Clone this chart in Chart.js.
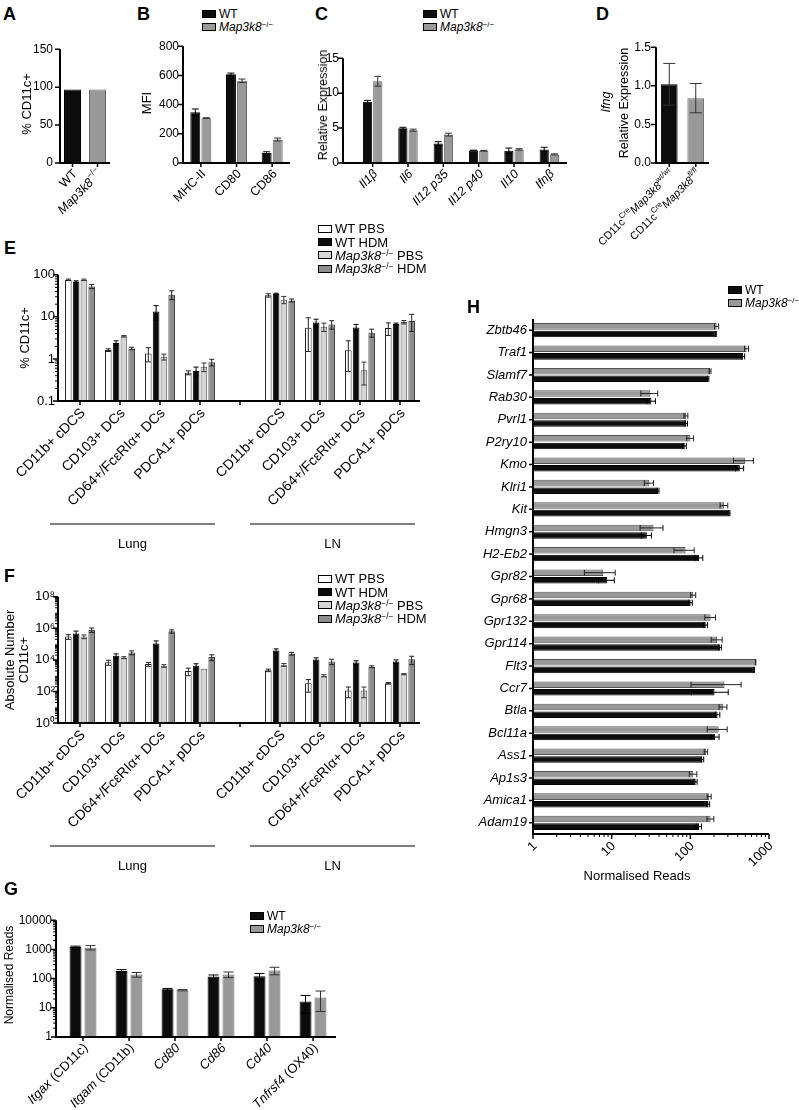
<!DOCTYPE html>
<html><head><meta charset="utf-8">
<script src="https://cdn.jsdelivr.net/npm/chart.js@4.4.0/dist/chart.umd.min.js"></script>
<style>
body{margin:0;background:#fff;}
#fig{position:relative;width:799px;height:1110px;overflow:hidden;font-family:"Liberation Sans",Arial,sans-serif;color:#000;}
#fig canvas{position:absolute;}
.lt{position:absolute;font-weight:bold;font-size:18px;line-height:18px;}
.yt{position:absolute;white-space:nowrap;transform:translate(-50%,-50%) rotate(-90deg);font-size:13px;line-height:14px;}
.xt{position:absolute;white-space:nowrap;transform:translate(-50%,-50%);font-size:13px;line-height:14px;}
.lg{position:absolute;font-size:12px;}
.lg div{height:13.4px;display:flex;align-items:center;white-space:nowrap;}
.lg span.sq{display:inline-block;width:12px;height:6px;border:1px solid #000;margin-right:3px;}
sup{font-size:0.65em;line-height:0;vertical-align:0.5em;}
</style></head><body><div id="fig"></div>
<script>
// ---- data ----
const aCats = ['WT', '<i>Map3k8</i><sup>−/−</sup>'];
const aVals = [97, 97];

const bCats = ['MHC-II', 'CD80', 'CD86'];
const bWT = [348, 608, 70], bWTerr = [22, 8, 7];
const bKO = [307, 563, 161], bKOerr = [3, 12, 10];

const cCats = ['<i>Il1β</i>', '<i>Il6</i>', '<i>Il12 p35</i>', '<i>Il12 p40</i>', '<i>Il10</i>', '<i>Ifnβ</i>'];
const cWT = [8.77, 4.96, 2.8, 1.78, 1.74, 1.95], cWTerr = [0.2, 0.15, 0.25, 0.05, 0.4, 0.3];
const cKO = [11.7, 4.7, 4.07, 1.75, 1.95, 1.23], cKOerr = [0.7, 0.15, 0.2, 0.05, 0.1, 0.08];

const dCats = ['CD11c<sup>Cre</sup><i>Map3k8<sup>wt/wt</sup></i>', 'CD11c<sup>Cre</sup><i>Map3k8<sup>fl/fl</sup></i>'];
const dVals = [1.02, 0.84], dErr = [0.27, 0.19];

const eCats = ['CD11b+ cDCS', 'CD103+ DCs', 'CD64+/FcεRIα+ DCs', 'PDCA1+ pDCs', '',
  'CD11b+ cDCS', 'CD103+ DCs', 'CD64+/FcεRIα+ DCs', 'PDCA1+ pDCs'];
const eWTPBS = [76, 1.62, 1.35, 0.47, null, 32.5, 5.5, 1.6, 5.4];
const eWTPBSerr = [3, 0.12, 0.5, 0.05, null, 3, 4, 1.1, 1.8];
const eWTHDM = [69, 2.4, 13.5, 0.52, null, 35.5, 7.3, 5.6, 6.8];
const eWTHDMerr = [3, 0.3, 5, 0.12, null, 1, 1.5, 1, 0.3];
const eKOPBS = [76, 3.46, 1.12, 0.65, null, 25.6, 5.8, 0.54, 7.5];
const eKOPBSerr = [3, 0.15, 0.18, 0.15, null, 5, 1.3, 0.3, 0.7];
const eKOHDM = [53, 1.78, 33.6, 0.83, null, 24.6, 6.6, 4.2, 8];
const eKOHDMerr = [6, 0.12, 8, 0.15, null, 2, 1.5, 0.9, 3.5];

const fWTPBS = [3e5, 7e3, 5.4e3, 2e3, null, 2.2e3, 330, 115, 330];
const fWTPBSerr = [1e5, 2.5e3, 1.5e3, 1e3, null, 400, 240, 75, 40];
const fWTHDM = [4.7e5, 1.8e4, 1.1e5, 4.2e3, null, 4e4, 1.05e4, 6.8e3, 8e3];
const fWTHDMerr = [2e5, 6e3, 5e4, 1.5e3, null, 1e4, 3e3, 2e3, 2e3];
const fKOPBS = [3e5, 1.4e4, 4.2e3, 2.7e3, null, 4.9e3, 1e3, 115, 1.25e3];
const fKOPBSerr = [8e4, 2e3, 800, 0, null, 1e3, 150, 75, 100];
const fKOHDM = [8e5, 2.9e4, 6.5e5, 1.5e4, null, 2.5e4, 8e3, 3.7e3, 1.1e4];
const fKOHDMerr = [2.5e5, 8e3, 1.5e5, 6e3, null, 5e3, 3e3, 500, 6e3];

const gCats = ['<i>Itgax</i> (CD11c)', '<i>Itgam</i> (CD11b)', '<i>Cd80</i>', '<i>Cd86</i>', '<i>Cd40</i>', '<i>Tnfrsf4</i> (OX40)'];
const gWT = [1230, 183, 43, 118, 120, 16.5], gWTerr = [60, 20, 3, 15, 30, 10];
const gKO = [1150, 137, 40, 138, 190, 22.5], gKOerr = [200, 25, 2, 30, 55, 15];

const hGenes = ['Zbtb46', 'Traf1', 'Slamf7', 'Rab30', 'Pvrl1', 'P2ry10', 'Kmo', 'Klri1', 'Kit', 'Hmgn3', 'H2-Eb2', 'Gpr82',
  'Gpr68', 'Gpr132', 'Gpr114', 'Flt3', 'Ccr7', 'Btla', 'Bcl11a', 'Ass1', 'Ap1s3', 'Amica1', 'Adam19'];
const hKO = [216, 519, 178, 31, 88, 100, 494, 30, 269, 34, 87, 7.8, 109, 181, 219, 675, 272, 262, 229, 158, 109, 174, 181];
const hKOerr = [13, 30, 5, 7.5, 5, 10, 140, 4, 30, 11, 25, 3.3, 8, 28, 35, 5, 170, 30, 65, 8, 12, 10, 18];
const hWT = [211, 470, 169, 32, 89, 85, 426, 39, 314, 28, 129, 8.8, 101, 157, 238, 650, 203, 222, 207, 143, 117, 170, 129];
const hWTerr = [3, 20, 3, 4, 3, 4, 50, 1, 5, 4, 15, 2, 5, 8, 10, 3, 100, 15, 25, 5, 5, 6, 10];

const tA = [0, 50, 100, 150], tB = [0, 200, 400, 600, 800], tC = [0, 5, 10, 15], tD = [0, 0.5, 1, 1.5];
const tE = [0.1, 1, 10, 100], tF = [1, 1e2, 1e4, 1e6, 1e8], tG = [1, 10, 100, 1000, 10000], tH = [1, 10, 100, 1000];

// ---- helpers ----
const FONT = '"Liberation Sans", Arial, sans-serif';
const fig = document.getElementById('fig');
const cfgs = {};
const BLK = '#0d0d0d', GRY = '#999';

function txt(html, cls, x, y, extra) {
  const d = document.createElement('div');
  d.className = cls; d.innerHTML = html;
  d.style.left = x + 'px'; d.style.top = y + 'px';
  if (extra) Object.assign(d.style, extra);
  fig.appendChild(d);
  return d;
}
function legend(x, y, items, fs) {
  const d = txt('', 'lg', x, y, {fontSize: fs + 'px'});
  items.forEach(it => {
    d.innerHTML += '<div><span class="sq" style="background:' + it[1] + '"></span><span>' + it[0] + '</span></div>';
  });
}
function parseRich(s) {
  const segs = []; let it = false, sup = false;
  s.split(/(<\/?i>|<\/?sup>)/).forEach(p => {
    if (p === '<i>') it = true; else if (p === '</i>') it = false;
    else if (p === '<sup>') sup = true; else if (p === '</sup>') sup = false;
    else if (p) segs.push({t: p, it, sup});
  });
  return segs;
}
function fnt(seg, fs) { return (seg.it ? 'italic ' : '') + (seg.sup ? fs * 0.7 : fs) + 'px ' + FONT; }
function drawRich(ctx, s, x, y, fs, ang) {
  const segs = parseRich(s);
  let W = 0;
  segs.forEach(g => { ctx.font = fnt(g, fs); g.w = ctx.measureText(g.t).width; W += g.w; });
  ctx.save();
  ctx.translate(x, y); ctx.rotate(-ang);
  ctx.textBaseline = 'middle'; ctx.textAlign = 'left';
  let cx = -W;
  segs.forEach(g => { ctx.font = fnt(g, fs); ctx.fillText(g.t, cx, g.sup ? -fs * 0.4 : 0); cx += g.w; });
  ctx.restore();
}

const gpAxes = {
  id: 'gpAxes',
  afterDatasetsDraw(chart) {
    const o = cfgs[chart.canvas.id];
    if (!o) return;
    const ctx = chart.ctx, a = chart.chartArea, horiz = !!o.horiz;
    const cS = horiz ? chart.scales.y : chart.scales.x;
    const vS = horiz ? chart.scales.x : chart.scales.y;
    ctx.save();
    // error bars
    chart.data.datasets.forEach((ds, di) => {
      if (!ds.err) return;
      const meta = chart.getDatasetMeta(di);
      ctx.strokeStyle = ds.errColor || '#000';
      ctx.lineWidth = 1;
      meta.data.forEach((el, i) => {
        const v = ds.data[i], e = ds.err[i];
        if (v == null || !e) return;
        const clip = v - e <= vS.min;
        const p1 = vS.getPixelForValue(clip ? vS.min : v - e), p2 = vS.getPixelForValue(v + e);
        const c = horiz ? el.y : el.x, k = o.cap || 3;
        ctx.beginPath();
        if (horiz) {
          ctx.moveTo(p1, c); ctx.lineTo(p2, c);
          ctx.moveTo(p2, c - k); ctx.lineTo(p2, c + k);
          if (!clip) { ctx.moveTo(p1, c - k); ctx.lineTo(p1, c + k); }
        } else {
          ctx.moveTo(c, p1); ctx.lineTo(c, p2);
          ctx.moveTo(c - k, p2); ctx.lineTo(c + k, p2);
          if (!clip) { ctx.moveTo(c - k, p1); ctx.lineTo(c + k, p1); }
        }
        ctx.stroke();
      });
    });
    // axis lines
    const ax = a.left - (o.yGap || 0), lw = 2, tl = o.tl || 4;
    ctx.strokeStyle = '#000'; ctx.lineWidth = lw;
    ctx.beginPath();
    ctx.moveTo(ax, a.top); ctx.lineTo(ax, a.bottom + lw / 2);
    ctx.moveTo(ax - lw / 2, a.bottom); ctx.lineTo(a.right, a.bottom);
    ctx.stroke();
    ctx.lineWidth = 1.5;
    ctx.beginPath();
    chart.data.labels.forEach((l, i) => {
      const p = cS.getPixelForValue(i);
      if (horiz) { ctx.moveTo(ax - tl, p); ctx.lineTo(ax, p); }
      else { ctx.moveTo(p, a.bottom); ctx.lineTo(p, a.bottom + tl); }
    });
    o.ticks.forEach(v => {
      const p = vS.getPixelForValue(v);
      if (horiz) { ctx.moveTo(p, a.bottom); ctx.lineTo(p, a.bottom + tl + 1); }
      else { ctx.moveTo(ax - tl - 1, p); ctx.lineTo(ax, p); }
    });
    ctx.stroke();
    if (o.log) {
      ctx.lineWidth = 1;
      ctx.beginPath();
      for (let d = vS.min; d < vS.max * 0.99; d *= 10) {
        for (let m = 2; m < 10; m++) {
          const p = vS.getPixelForValue(d * m);
          if (horiz) { ctx.moveTo(p, a.bottom); ctx.lineTo(p, a.bottom + 3); }
          else { ctx.moveTo(ax - 3, p); ctx.lineTo(ax, p); }
        }
      }
      ctx.stroke();
    }
    // rotated labels
    ctx.fillStyle = '#000';
    const ang = Math.PI / 4;
    if (horiz) {
      o.ticks.forEach(v => drawRich(ctx, String(v), vS.getPixelForValue(v) + o.ldx, a.bottom + o.ldy, o.lf, ang));
    } else {
      chart.data.labels.forEach((s, i) => {
        if (s) drawRich(ctx, s, cS.getPixelForValue(i) + o.ldx, a.bottom + o.ldy, o.lf, ang);
      });
    }
    // group brackets
    if (o.groups) {
      ctx.lineWidth = 1;
      ctx.font = '13px ' + FONT; ctx.textAlign = 'center'; ctx.textBaseline = 'middle';
      o.groups.forEach(g => {
        const x1 = cS.getPixelForValue(g[0]) - 30, x2 = cS.getPixelForValue(g[1]) + 15;
        ctx.beginPath(); ctx.moveTo(x1, a.bottom + 123); ctx.lineTo(x2, a.bottom + 123); ctx.stroke();
        ctx.fillText(g[2], (x1 + x2) / 2, a.bottom + 143);
      });
    }
    ctx.restore();
  }
};
Chart.register(gpAxes);

function mkChart(id, box, area, o) {
  const c = document.createElement('canvas');
  c.id = id; c.width = box[2]; c.height = box[3];
  Object.assign(c.style, {left: box[0] + 'px', top: box[1] + 'px', width: box[2] + 'px', height: box[3] + 'px'});
  fig.appendChild(c);
  cfgs[id] = o;
  const yW = area[0] - box[0], xH = box[1] + box[3] - area[3];
  const valScale = {
    type: o.log ? 'logarithmic' : 'linear', min: o.min, max: o.max,
    grid: {display: false, drawTicks: false}, border: {display: false},
    afterBuildTicks: s => { s.ticks = o.ticks.map(v => ({value: v})); },
    ticks: {display: !o.horiz, color: '#000', font: {family: FONT, size: o.tf || 12},
      padding: (o.yGap || 0) + (o.lgap || 5), callback: o.fmt}
  };
  const catScale = {
    type: 'category', offset: true,
    grid: {display: false, drawTicks: false}, border: {display: false},
    ticks: {display: !!o.horiz, autoSkip: false, color: '#000', font: {family: FONT, size: 13, style: 'italic'}, padding: 6}
  };
  const xs = o.horiz ? valScale : catScale, ys = o.horiz ? catScale : valScale;
  xs.afterFit = s => { s.height = xH; };
  ys.afterFit = s => { s.width = yW; };
  return new Chart(c, {
    type: 'bar',
    data: {labels: o.cats, datasets: o.sets},
    options: {
      indexAxis: o.horiz ? 'y' : 'x',
      responsive: false, animation: false, devicePixelRatio: 1,
      layout: {padding: {top: area[1] - box[1], right: box[0] + box[2] - area[2], left: 0, bottom: 0}},
      plugins: {legend: {display: false}, tooltip: {enabled: false}},
      scales: {x: xs, y: ys}
    }
  });
}
function ds(data, err, bg, bd, ec, bp, cp) {
  return {data, err, backgroundColor: bg, borderColor: bd, borderWidth: 1, errColor: ec, barPercentage: bp, categoryPercentage: cp};
}
const sup = ['⁰', '¹', '²', '³', '⁴', '⁵', '⁶', '⁷', '⁸', '⁹'];

// ---- panels ----
mkChart('cA', [25, 35, 100, 200], [60, 45, 110, 163], {
  cats: aCats, min: 0, max: 150, ticks: tA, fmt: v => v, lgap: 7, lf: 12.5, ldx: 3, ldy: 9,
  sets: [ds(aVals, null, [BLK, GRY], ['#000', '#666'], '#000', 0.68, 1)]
});
mkChart('cB', [150, 35, 150, 200], [183, 45, 290, 163], {
  cats: bCats, min: 0, max: 800, ticks: tB, fmt: v => v, lgap: 4, lf: 12.5, ldx: 3, ldy: 9, cap: 3.5,
  sets: [ds(bWT, bWTerr, BLK, '#000', '#000', 0.9, 0.62), ds(bKO, bKOerr, GRY, '#666', '#333', 0.9, 0.62)]
});
mkChart('cC', [318, 35, 259, 200], [355, 45, 567, 163], {
  cats: cCats, min: 0, max: 15, ticks: tC, fmt: v => v, yGap: 12, lgap: 4, lf: 12.5, ldx: 3, ldy: 9, cap: 3.5,
  sets: [ds(cWT, cWTerr, BLK, '#000', '#000', 0.9, 0.58), ds(cKO, cKOerr, GRY, '#666', '#333', 0.9, 0.58)]
});
mkChart('cD', [540, 35, 180, 215], [656, 45, 709, 163], {
  cats: dCats, min: 0, max: 1.5, ticks: tD, fmt: v => v.toFixed(1), lgap: 5, lf: 11, ldx: 3, ldy: 9, cap: 6,
  sets: [ds(dVals, dErr, [BLK, GRY], ['#000', '#666'], '#333', 0.63, 1)]
});
const eSets = (w1, w1e, w2, w2e, k1, k1e, k2, k2e) => [
  ds(w1, w1e, '#fff', '#222', '#222', 0.85, 0.78), ds(w2, w2e, BLK, '#000', '#000', 0.85, 0.78),
  ds(k1, k1e, '#d6d6d6', '#555', '#333', 0.85, 0.78), ds(k2, k2e, '#8e8e8e', '#444', '#222', 0.85, 0.78)];
const grp = [[0, 3, 'Lung'], [5, 8, 'LN']];
mkChart('cE', [0, 262, 430, 300], [60, 274, 420, 401], {
  cats: eCats, log: true, min: 0.1, max: 100, ticks: tE, fmt: v => String(v), tf: 13, yGap: 2, lgap: 3,
  lf: 14, ldx: 3, ldy: 10, cap: 2.5, groups: grp,
  sets: eSets(eWTPBS, eWTPBSerr, eWTHDM, eWTHDMerr, eKOPBS, eKOPBSerr, eKOHDM, eKOHDMerr)
});
mkChart('cF', [0, 584, 430, 300], [60, 596, 420, 723], {
  cats: eCats, log: true, min: 1, max: 1e8, ticks: tF, fmt: v => '10' + sup[Math.round(Math.log10(v))], tf: 13, yGap: 2, lgap: 3,
  lf: 14, ldx: 3, ldy: 10, cap: 2.5, groups: grp,
  sets: eSets(fWTPBS, fWTPBSerr, fWTHDM, fWTHDMerr, fKOPBS, fKOPBSerr, fKOHDM, fKOHDMerr)
});
mkChart('cG', [0, 905, 345, 205], [60, 918, 336, 1037], {
  cats: gCats, log: true, min: 1, max: 10000, ticks: tG, fmt: v => String(v), tf: 12, yGap: 4, lgap: 4,
  lf: 13, ldx: 3, ldy: 9, cap: 5,
  sets: [ds(gWT, gWTerr, BLK, '#000', '#000', 0.8, 0.65), ds(gKO, gKOerr, GRY, '#666', '#333', 0.8, 0.65)]
});
mkChart('cH', [440, 305, 345, 585], [533, 319, 769, 834], {
  horiz: true, cats: hGenes, log: true, min: 1, max: 1000, ticks: tH, lf: 13, ldx: 2, ldy: 10, cap: 3,
  sets: [ds(hKO, hKOerr, GRY, '#555', '#222', 0.86, 0.68), ds(hWT, hWTerr, BLK, '#000', '#000', 0.86, 0.68)]
});

// ---- text: panel letters, axis titles, legends ----
[['A', 3, 5], ['B', 137, 5], ['C', 315, 5], ['D', 596, 5], ['E', 4, 239], ['F', 4, 567], ['G', 4, 880], ['H', 467, 298]]
  .forEach(l => txt(l[0], 'lt', l[1], l[2]));
txt('% CD11c+', 'yt', 27, 104);
txt('MFI', 'yt', 147, 103);
txt('Relative Expression', 'yt', 323, 105, {fontSize: '12.5px'});
txt('<i>Ifng</i>', 'yt', 606, 102, {fontSize: '12.5px'});
txt('Relative Expression', 'yt', 624, 103, {fontSize: '12.5px'});
txt('% CD11c+', 'yt', 25, 338);
txt('Absolute Number', 'yt', 10, 660);
txt('CD11c+', 'yt', 24, 660);
txt('Normalised Reads', 'yt', 9, 975, {fontSize: '12px'});
txt('Normalised Reads', 'xt', 637, 876);

const KO = '<i>Map3k8</i><sup>−/−</sup>';
legend(202, 7, [['WT', BLK], [KO, GRY]], 12);
legend(423, 7, [['WT', BLK], [KO, GRY]], 12);
const lgE = [['WT PBS', '#fff'], ['WT HDM', BLK], [KO + ' PBS', '#d6d6d6'], [KO + ' HDM', '#8e8e8e']];
legend(318, 222, lgE, 13);
legend(318, 572, lgE, 13);
legend(250, 909, [['WT', BLK], [KO, GRY]], 12);
legend(728, 283, [['WT', BLK], [KO, GRY]], 12);
</script>
</body></html>
